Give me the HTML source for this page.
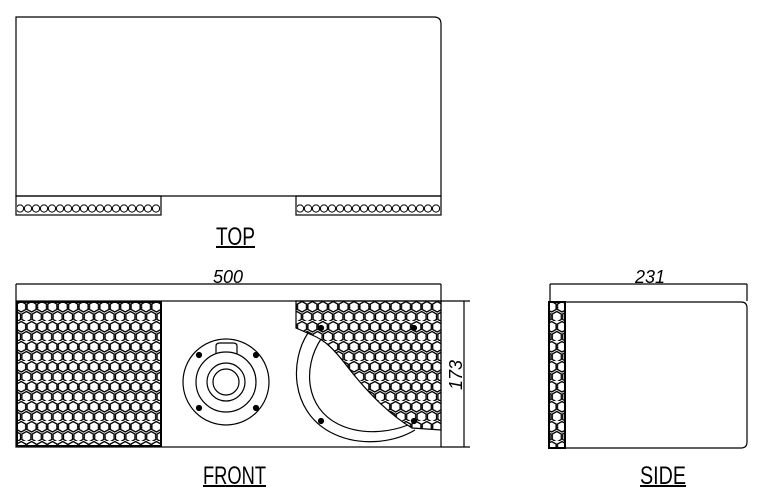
<!DOCTYPE html><html><head><style>body{margin:0;background:#fff}svg{display:block}text{font-family:"Liberation Sans",sans-serif}</style></head><body>
<svg width="763" height="498" viewBox="0 0 763 498" xmlns="http://www.w3.org/2000/svg">
<defs>
<pattern id="hex" width="10.4" height="20" patternUnits="userSpaceOnUse" x="16" y="301">
<g fill="none" stroke="#000" stroke-width="1.3">
<polygon points="5.2,0.5 9.7,3 9.7,8.5 5.2,11 0.7,8.5 0.7,3"/>
<polygon points="0,10.5 4.5,13 4.5,18.5 0,21 -4.5,18.5 -4.5,13"/>
<polygon points="10.4,10.5 14.9,13 14.9,18.5 10.4,21 5.9,18.5 5.9,13"/>
</g></pattern>
<pattern id="circ" width="8" height="10" patternUnits="userSpaceOnUse" x="16" y="203">
<circle cx="4" cy="5.5" r="3.6" fill="none" stroke="#000" stroke-width="1"/></pattern>
</defs>
<g fill="none" stroke="#000" stroke-width="1.2">
<path d="M16,196 V17 H434 Q441,17 441,24 V196 Z"/>
<rect x="16" y="196" width="145" height="19"/>
<rect x="296" y="196" width="145" height="19"/>
<rect x="17" y="203" width="143" height="11" fill="url(#circ)" stroke="none"/>
<rect x="297" y="203" width="143" height="11" fill="url(#circ)" stroke="none"/>
<line x1="216" y1="247" x2="255" y2="247" stroke-width="2"/>
<line x1="16" y1="284" x2="441" y2="284"/>
<line x1="16" y1="284" x2="16" y2="301"/>
<line x1="441" y1="284" x2="441" y2="301"/>
<line x1="441" y1="301" x2="470" y2="301"/>
<line x1="441" y1="447" x2="470" y2="447"/>
<line x1="464" y1="301" x2="464" y2="447"/>
<rect x="16" y="301" width="425" height="146"/>
<rect x="17" y="302" width="144" height="144" fill="url(#hex)" stroke="#000" stroke-width="2"/>
<path d="M296,301 H441 V430 L412,428 C390,415 370,395 350,370 C335,350 325,340 312,335 L296,328 Z" fill="url(#hex)"/>
<path d="M308,333 C290,360 290,410 330,432 C360,448 395,442 415,430"/>
<path d="M321,339 C302,368 306,408 338,424 C362,436 390,432 408,425"/>
<circle cx="226" cy="382" r="43"/>
<circle cx="226" cy="382" r="30"/>
<circle cx="226" cy="382" r="19"/>
<circle cx="226" cy="382" r="13"/>
<path d="M216,354 V346 Q216,343 220,343 H233 Q237,343 237,346 V354"/>
<g fill="#000"><circle cx="199" cy="355" r="2.5"/><circle cx="256" cy="355" r="2.5"/><circle cx="199" cy="408" r="2.5"/><circle cx="256" cy="408" r="2.5"/>
<circle cx="321" cy="328" r="2.5"/><circle cx="414" cy="328" r="2.5"/><circle cx="321" cy="421" r="2.5"/><circle cx="414" cy="421" r="2.5"/></g>
<line x1="203" y1="486" x2="266" y2="486" stroke-width="2"/>
<line x1="550" y1="284" x2="747" y2="284"/>
<line x1="550" y1="284" x2="550" y2="301"/>
<line x1="747" y1="284" x2="747" y2="301"/>
<path d="M565,302 H741 Q747,302 747,308 V442 Q747,448 741,448 H565 Z"/>
<rect x="549" y="302" width="16" height="146" stroke-width="2" fill="url(#hex)"/>
<line x1="640" y1="486" x2="686" y2="486" stroke-width="2"/>
</g>
<g font-size="18" font-style="italic" fill="#000">
<text x="213" y="283">500</text>
<text x="635" y="283">231</text>
<text transform="translate(462,390) rotate(-90)">173</text>
</g>
<g font-size="25" fill="#000">
<text x="216" y="245" textLength="39" lengthAdjust="spacingAndGlyphs">TOP</text>
<text x="203" y="484" textLength="63" lengthAdjust="spacingAndGlyphs">FRONT</text>
<text x="640" y="484" textLength="46" lengthAdjust="spacingAndGlyphs">SIDE</text>
</g>
</svg></body></html>
